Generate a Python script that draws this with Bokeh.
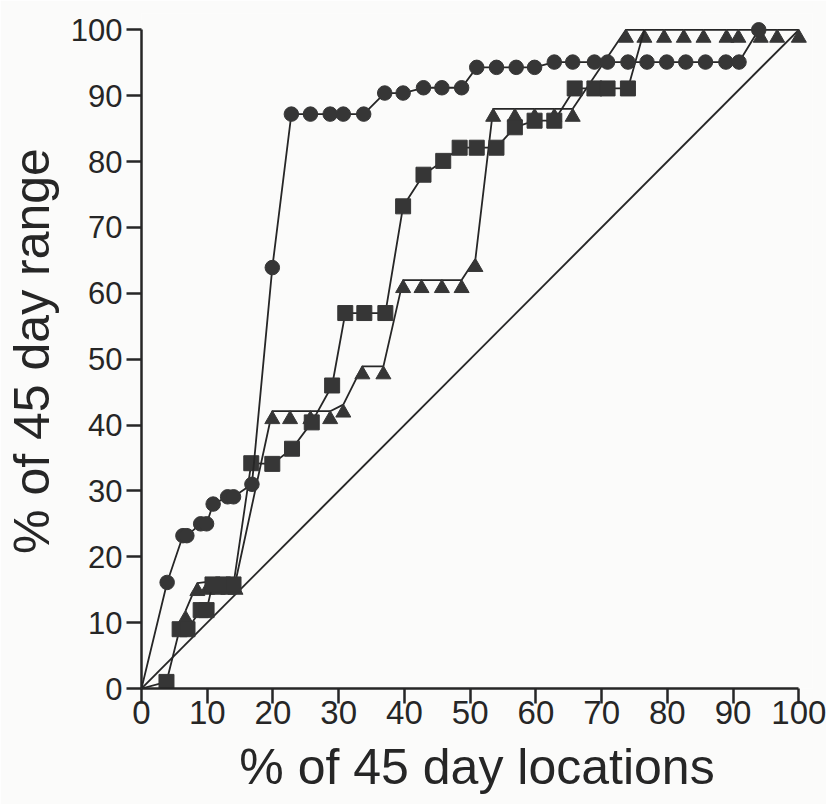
from bokeh.plotting import figure
from bokeh.models import Range1d, FixedTicker, ColumnDataSource
from bokeh.transform import dodge
from bokeh.embed import file_html
from bokeh.resources import INLINE

# Cumulative curves: % of 45-day range vs % of 45-day locations
circle_x = [0, 3.9, 6.3, 6.9, 9.0, 9.9, 10.9, 13.1, 14.0, 16.8, 19.9,
            22.8, 25.7, 28.7, 30.7, 33.8, 37.0, 39.8, 42.9, 45.7, 48.7,
            51.0, 54.0, 57.0, 59.8, 62.8, 65.6, 68.9, 70.9, 74.0, 76.9,
            79.9, 82.8, 85.8, 88.9, 90.9, 93.9]
circle_y = [0, 16.1, 23.2, 23.2, 25.0, 25.0, 28.0, 29.1, 29.1, 31.0, 63.9,
            87.2, 87.2, 87.2, 87.2, 87.2, 90.4, 90.4, 91.2, 91.2, 91.2,
            94.3, 94.3, 94.3, 94.3, 95.1, 95.1, 95.1, 95.1, 95.1, 95.1,
            95.1, 95.1, 95.1, 95.1, 95.1, 100]

square_x = [0, 3.8, 5.8, 7.0, 9.0, 9.9, 10.8, 12.4, 14.0, 16.7, 19.9,
            22.9, 25.9, 29.0, 31.0, 33.9, 37.1, 39.8, 42.9, 45.9, 48.4,
            51.0, 54.0, 56.8, 59.8, 62.8, 65.9, 68.9, 70.9, 74.0, 76.5]
square_y = [0, 1.0, 9.0, 9.0, 11.9, 11.9, 15.8, 15.8, 15.8, 34.2, 34.1,
            36.4, 40.4, 46.0, 57.0, 57.0, 57.0, 73.2, 78.0, 80.1, 82.1,
            82.1, 82.1, 85.2, 86.2, 86.2, 91.1, 91.1, 91.1, 91.1, 100]

triangle_x = [6.7, 8.5, 10.0, 11.6, 13.2, 14.3, 19.9, 22.6, 25.7, 28.7,
              30.7, 33.6, 36.8, 39.8, 42.6, 45.7, 48.7, 50.8, 53.5, 56.8,
              59.8, 62.8, 65.6, 73.7, 76.5, 79.5, 82.5, 85.5, 89.0, 90.8,
              94.2, 96.7, 100]
triangle_y = [11.8, 16.0, 16.2, 16.2, 16.2, 16.2, 42.1, 42.1, 42.1, 42.1,
              43.1, 48.9, 48.9, 62.0, 62.0, 62.0, 62.0, 65.2, 88.0, 88.0,
              88.0, 88.0, 88.0, 100, 100, 100, 100, 100, 100, 100,
              100, 100, 100]

equal_line = [0, 100]
ticks = [0, 10, 20, 30, 40, 50, 60, 70, 80, 90, 100]
x_title = "% of 45 day locations"
y_title = "% of 45 day range"

INK = "#262626"
FILL = "#363636"
PAPER = "#fbfbfa"

p = figure(width=826, height=804, output_backend="svg", toolbar_location=None,
           x_range=Range1d(0, 673 / 6.593), y_range=Range1d(0, 675 / 6.587),
           min_border_left=139, min_border_right=14,
           min_border_top=13, min_border_bottom=116)
p.background_fill_color = PAPER
p.border_fill_color = PAPER
p.outline_line_color = None
p.grid.visible = False

for ax in (p.xaxis[0], p.yaxis[0]):
    ax.bounds = (0, 100)
    ax.ticker = FixedTicker(ticks=ticks)
    ax.axis_line_color = INK
    ax.axis_line_width = 2.5
    ax.major_tick_line_color = INK
    ax.major_tick_line_width = 2.5
    ax.major_tick_in = 0
    ax.major_tick_out = 15
    ax.minor_tick_line_color = None
    ax.major_label_text_color = INK
    ax.axis_label_text_font = "Liberation Sans"
    ax.axis_label_text_font_style = "normal"
    ax.axis_label_text_font_size = "50px"
    ax.axis_label_text_color = INK

p.yaxis.major_label_text_font = "Liberation Sans"
p.yaxis.major_label_text_font_size = "31px"
p.yaxis.major_label_standoff = 4
p.yaxis.axis_label = y_title
p.yaxis.axis_label_standoff = 8

p.xaxis.major_label_text_font = "Liberation Sans"
p.xaxis.major_label_text_font_size = "33px"
p.xaxis.major_label_standoff = -3
p.xaxis.axis_label = x_title
p.xaxis.axis_label_standoff = 12

# 1:1 reference line
p.line(equal_line, equal_line, line_color=INK, line_width=1.9)

tri = ColumnDataSource(dict(x=triangle_x, y=triangle_y))
p.line("x", "y", source=tri, line_color=INK, line_width=1.8)
p.scatter("x", dodge("y", -1.23, range=p.y_range), source=tri, marker="triangle",
          size=15, fill_color=FILL, line_color=FILL)

p.line(square_x, square_y, line_color=INK, line_width=1.8)
p.scatter(square_x[1:-1], square_y[1:-1], marker="square", size=15,
          fill_color=FILL, line_color=FILL)

p.line(circle_x, circle_y, line_color=INK, line_width=1.8)
p.scatter(circle_x[1:], circle_y[1:], marker="circle", size=14.5,
          fill_color=FILL, line_color=FILL)

open("out.html", "w").write(file_html(p, INLINE))
